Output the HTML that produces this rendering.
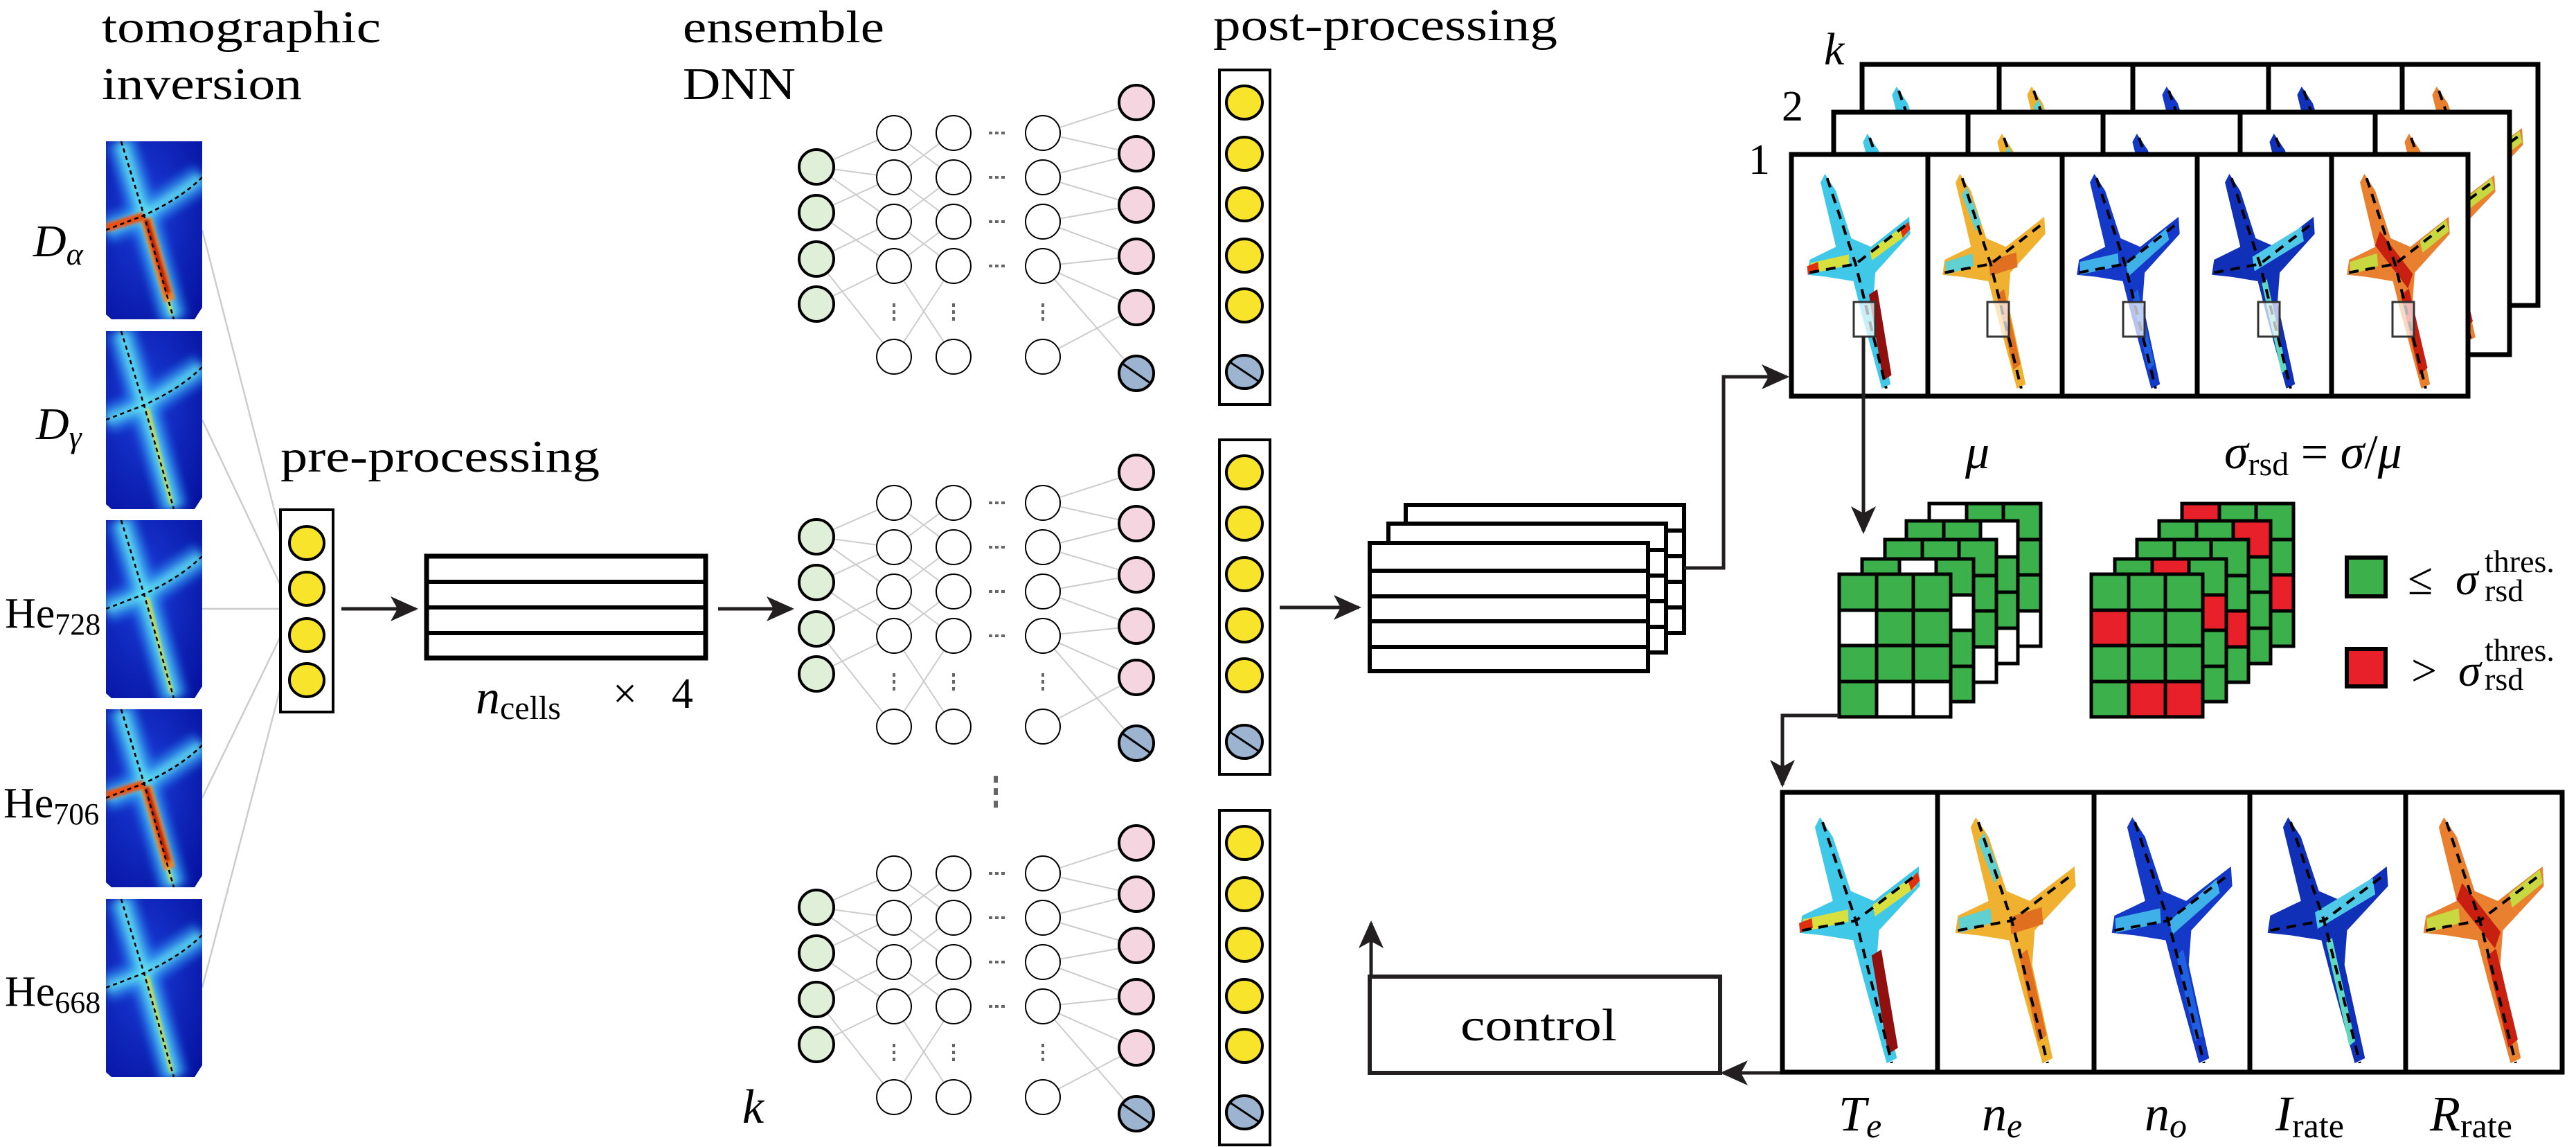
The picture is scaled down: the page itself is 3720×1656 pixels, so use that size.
<!DOCTYPE html>
<html><head><meta charset="utf-8">
<style>
html,body{margin:0;padding:0;background:#fff;}
svg{display:block;}
svg text{font-family:"Liberation Serif","DejaVu Serif",serif;fill:#000;}
.it{font-style:italic;}
</style></head>
<body>
<svg width="3720" height="1656" viewBox="0 0 3720 1656" xmlns="http://www.w3.org/2000/svg" font-family="Liberation Serif, DejaVu Serif, serif">
<defs>
<marker id="ah" viewBox="0 0 20 20" refX="18" refY="10" markerWidth="40" markerHeight="40" markerUnits="userSpaceOnUse" orient="auto">
<path d="M0,1 L20,10 L0,19 L5,10 Z" fill="#231f20"/>
</marker>
<filter id="bl" x="-0.3" y="-0.3" width="1.6" height="1.6"><feGaussianBlur stdDeviation="6"/></filter>
<filter id="bl2" x="-0.3" y="-0.3" width="1.6" height="1.6"><feGaussianBlur stdDeviation="2"/></filter>
<radialGradient id="hg" cx="0.4" cy="0.4" r="0.8"><stop offset="0" stop-color="#1a3cd8"/><stop offset="1" stop-color="#0612a0"/></radialGradient>
<symbol id="hm" viewBox="0 0 139 257" preserveAspectRatio="none">
<path d="M0,0 H139 V240 L128,257 H8 L0,250 Z" fill="url(#hg)"/>
<g filter="url(#bl)">
<path d="M22,0 L55,107 L98,257" stroke="#2a90f0" stroke-width="40" fill="none" opacity="0.8"/>
<path d="M0,128 L55,107 L139,52" stroke="#2a90f0" stroke-width="40" fill="none" opacity="0.7"/>
<path d="M22,0 L55,107 L98,257" stroke="#60e0f0" stroke-width="14" fill="none"/>
<path d="M0,128 L55,107 L139,52" stroke="#60e0f0" stroke-width="12" fill="none"/>
</g>
<path d="M60,112 L95,250" stroke="#f0e020" stroke-width="4" fill="none" filter="url(#bl2)"/>
<path d="M22,0 L55,107 L98,257 M0,128 L55,107 C80,95 110,80 139,52" stroke="#000" stroke-width="2.5" stroke-dasharray="6,5" fill="none"/>
</symbol>
<symbol id="hmr" viewBox="0 0 139 257" preserveAspectRatio="none">
<use href="#hm" width="139" height="257"/>
<g filter="url(#bl2)">
<path d="M58,112 L92,230" stroke="#f08020" stroke-width="16" fill="none"/>
<path d="M58,112 L90,220" stroke="#c01010" stroke-width="8" fill="none"/>
<path d="M0,125 L55,108" stroke="#f05010" stroke-width="12" fill="none"/>
</g>
<path d="M22,0 L55,107 L98,257 M0,128 L55,107 C80,95 110,80 139,52" stroke="#000" stroke-width="2.5" stroke-dasharray="6,5" fill="none"/>
</symbol>
<path id="shape" d="M18,0 L28,8 L42,30 L60,34 L95,20 L96,28 L64,46 L62,60 L78,98 L70,100 L52,66 L44,50 L20,48 L2,47 L4,40 L28,34 L14,4 Z"/>
<symbol id="pT" viewBox="0 0 100 100" preserveAspectRatio="none">
<use href="#shape" fill="#40c8e8"/>
<path d="M5,44 L40,40 M60,38 L92,26" stroke="#d8e040" stroke-width="5" fill="none"/>
<path d="M2,45 L12,43 M88,28 L95,24" stroke="#e03010" stroke-width="4"/>
<path d="M62,55 L75,95" stroke="#901010" stroke-width="8"/>
<path d="M20,2 L46,42 L74,100 M4,46 L46,42 L94,23" stroke="#000" fill="none" vector-effect="non-scaling-stroke" style="stroke-width:4;stroke-dasharray:14,10"/>
</symbol>
<symbol id="pN" viewBox="0 0 100 100" preserveAspectRatio="none">
<use href="#shape" fill="#f0b030"/>
<path d="M5,44 L30,40 M22,8 L35,25" stroke="#60d0d0" stroke-width="6" fill="none"/>
<path d="M45,44 L70,40 M55,55 L70,90" stroke="#e07020" stroke-width="7"/>
<path d="M20,2 L46,42 L74,100 M4,46 L46,42 L94,23" stroke="#000" fill="none" vector-effect="non-scaling-stroke" style="stroke-width:4;stroke-dasharray:14,10"/>
</symbol>
<symbol id="pB" viewBox="0 0 100 100" preserveAspectRatio="none">
<use href="#shape" fill="#1438c8"/>
<path d="M5,44 L40,40 M48,45 L85,28" stroke="#40b0e8" stroke-width="6" fill="none"/>
<path d="M55,55 L70,90" stroke="#2060e0" stroke-width="6"/>
<path d="M20,2 L46,42 L74,100 M4,46 L46,42 L94,23" stroke="#000" fill="none" vector-effect="non-scaling-stroke" style="stroke-width:4;stroke-dasharray:14,10"/>
</symbol>
<symbol id="pI" viewBox="0 0 100 100" preserveAspectRatio="none">
<use href="#shape" fill="#1030b8"/>
<path d="M40,42 L85,28" stroke="#50c8e8" stroke-width="7" fill="none"/>
<path d="M50,50 L68,92" stroke="#60d8c0" stroke-width="5"/>
<path d="M20,2 L46,42 L74,100 M4,46 L46,42 L94,23" stroke="#000" fill="none" vector-effect="non-scaling-stroke" style="stroke-width:4;stroke-dasharray:14,10"/>
</symbol>
<symbol id="pR" viewBox="0 0 100 100" preserveAspectRatio="none">
<use href="#shape" fill="#e88030"/>
<path d="M5,44 L30,40 M70,34 L94,24" stroke="#c8d840" stroke-width="6" fill="none"/>
<path d="M30,30 L60,50 M55,55 L72,92" stroke="#c82010" stroke-width="8"/>
<path d="M20,2 L46,42 L74,100 M4,46 L46,42 L94,23" stroke="#000" fill="none" vector-effect="non-scaling-stroke" style="stroke-width:4;stroke-dasharray:14,10"/>
</symbol>
<g id="net">
<g stroke="#cccccc" stroke-width="2" fill="none">
<path d="M1179,241 L1291,192 M1179,241 L1291,320 M1179,307 L1291,256 M1179,307 L1291,384 M1179,374 L1291,320 M1179,374 L1291,515 M1179,439 L1291,384 M1179,241 L1291,256"/>
<path d="M1291,192 L1377,256 M1291,256 L1377,192 M1291,256 L1377,320 M1291,320 L1377,384 M1291,384 L1377,320 M1291,515 L1377,384 M1291,384 L1377,515 M1291,320 L1377,256"/>
<path d="M1506,192 L1641,148 M1506,192 L1641,222 M1506,256 L1641,222 M1506,256 L1641,296 M1506,320 L1641,296 M1506,320 L1641,370 M1506,384 L1641,370 M1506,384 L1641,444 M1506,384 L1641,539 M1506,515 L1641,444"/>
</g>
<g stroke="#000" stroke-width="4">
<circle cx="1179" cy="241" r="25" fill="#e0f0d8"/><circle cx="1179" cy="307" r="25" fill="#e0f0d8"/><circle cx="1179" cy="374" r="25" fill="#e0f0d8"/><circle cx="1179" cy="439" r="25" fill="#e0f0d8"/>
</g>
<g stroke="#000" stroke-width="2" fill="#fff">
<circle cx="1291" cy="192" r="25"/><circle cx="1291" cy="256" r="25"/><circle cx="1291" cy="320" r="25"/><circle cx="1291" cy="384" r="25"/><circle cx="1291" cy="515" r="25"/>
<circle cx="1377" cy="192" r="25"/><circle cx="1377" cy="256" r="25"/><circle cx="1377" cy="320" r="25"/><circle cx="1377" cy="384" r="25"/><circle cx="1377" cy="515" r="25"/>
<circle cx="1506" cy="192" r="25"/><circle cx="1506" cy="256" r="25"/><circle cx="1506" cy="320" r="25"/><circle cx="1506" cy="384" r="25"/><circle cx="1506" cy="515" r="25"/>
</g>
<g fill="#666">
<rect x="1289" y="438" width="4" height="5"/><rect x="1289" y="448" width="4" height="5"/><rect x="1289" y="458" width="4" height="5"/>
<rect x="1375" y="438" width="4" height="5"/><rect x="1375" y="448" width="4" height="5"/><rect x="1375" y="458" width="4" height="5"/>
<rect x="1504" y="438" width="4" height="5"/><rect x="1504" y="448" width="4" height="5"/><rect x="1504" y="458" width="4" height="5"/>
<rect x="1428" y="190" width="5" height="4"/><rect x="1437" y="190" width="5" height="4"/><rect x="1446" y="190" width="5" height="4"/>
<rect x="1428" y="254" width="5" height="4"/><rect x="1437" y="254" width="5" height="4"/><rect x="1446" y="254" width="5" height="4"/>
<rect x="1428" y="318" width="5" height="4"/><rect x="1437" y="318" width="5" height="4"/><rect x="1446" y="318" width="5" height="4"/>
<rect x="1428" y="382" width="5" height="4"/><rect x="1437" y="382" width="5" height="4"/><rect x="1446" y="382" width="5" height="4"/>
</g>
<g stroke="#000" stroke-width="4">
<circle cx="1641" cy="148" r="25" fill="#f5d5e0"/><circle cx="1641" cy="222" r="25" fill="#f5d5e0"/><circle cx="1641" cy="296" r="25" fill="#f5d5e0"/><circle cx="1641" cy="370" r="25" fill="#f5d5e0"/><circle cx="1641" cy="444" r="25" fill="#f5d5e0"/>
<circle cx="1641" cy="539" r="25" fill="#9cb4d0"/><path d="M1621,525 L1661,553" stroke-width="3"/>
</g>
<rect x="1761" y="101" width="73" height="483" fill="#fff" stroke="#000" stroke-width="4"/>
<g stroke="#000" stroke-width="4">
<ellipse cx="1797" cy="148" rx="26" ry="24" fill="#f8e42a"/><ellipse cx="1797" cy="222" rx="26" ry="24" fill="#f8e42a"/><ellipse cx="1797" cy="295" rx="26" ry="24" fill="#f8e42a"/><ellipse cx="1797" cy="369" rx="26" ry="24" fill="#f8e42a"/><ellipse cx="1797" cy="441" rx="26" ry="24" fill="#f8e42a"/>
<ellipse cx="1797" cy="537" rx="26" ry="24" fill="#9cb4d0"/><path d="M1775,522 L1820,552" stroke-width="3"/>
</g>
</g>
</defs>

<text x="147" y="61" font-size="66" textLength="403" lengthAdjust="spacingAndGlyphs">tomographic</text>
<text x="147" y="143" font-size="66" textLength="289" lengthAdjust="spacingAndGlyphs">inversion</text>
<text x="986" y="61" font-size="66" textLength="291" lengthAdjust="spacingAndGlyphs">ensemble</text>
<text x="986" y="143" font-size="66" textLength="163" lengthAdjust="spacingAndGlyphs">DNN</text>
<text x="1752" y="58" font-size="66" textLength="497" lengthAdjust="spacingAndGlyphs">post-processing</text>
<text x="405" y="681" font-size="66" textLength="461" lengthAdjust="spacingAndGlyphs">pre-processing</text>

<g stroke="#cccccc" stroke-width="2.5">
<line x1="292" y1="332" x2="405" y2="771"/><line x1="292" y1="606" x2="405" y2="845"/><line x1="292" y1="879" x2="405" y2="879"/><line x1="292" y1="1152" x2="405" y2="919"/><line x1="292" y1="1426" x2="405" y2="993"/>
</g>
<use href="#hmr" x="153" y="204" width="139" height="257"/>
<use href="#hm" x="153" y="478" width="139" height="257"/>
<use href="#hm" x="153" y="751" width="139" height="257"/>
<use href="#hmr" x="153" y="1024" width="139" height="257"/>
<use href="#hm" x="153" y="1298" width="139" height="257"/>
<text x="48" y="370" font-size="66" class="it">D<tspan font-size="46" dy="12">α</tspan></text>
<text x="52" y="634" font-size="66" class="it">D<tspan font-size="46" dy="12">γ</tspan></text>
<text x="7" y="906" font-size="62">He<tspan font-size="44" dy="10">728</tspan></text>
<text x="5" y="1180" font-size="62">He<tspan font-size="44" dy="10">706</tspan></text>
<text x="7" y="1452" font-size="62">He<tspan font-size="44" dy="10">668</tspan></text>

<rect x="405" y="736" width="76" height="292" fill="#fff" stroke="#000" stroke-width="4"/>
<g stroke="#000" stroke-width="4" fill="#f8e42a">
<ellipse cx="443" cy="784" rx="25" ry="24"/><ellipse cx="443" cy="850" rx="25" ry="24"/><ellipse cx="443" cy="917" rx="25" ry="24"/><ellipse cx="443" cy="982" rx="25" ry="24"/>
</g>
<line x1="493" y1="879" x2="600" y2="879" stroke="#231f20" stroke-width="5" marker-end="url(#ah)"/>
<rect x="616" y="803" width="403" height="147" fill="#fff" stroke="#000" stroke-width="7"/>
<path d="M616,840 H1019 M616,877 H1019 M616,914 H1019" stroke="#000" stroke-width="6"/>
<text x="687" y="1030" font-size="70" class="it">n<tspan font-size="48" font-style="normal" dy="8">cells</tspan></text>
<text x="885" y="1022" font-size="62">×</text>
<text x="970" y="1022" font-size="62">4</text>
<line x1="1037" y1="879" x2="1143" y2="879" stroke="#231f20" stroke-width="5" marker-end="url(#ah)"/>

<use href="#net"/>
<use href="#net" y="534"/>
<use href="#net" y="1069"/>
<g fill="#666"><rect x="1435" y="1120" width="6" height="10"/><rect x="1435" y="1138" width="6" height="10"/><rect x="1435" y="1156" width="6" height="10"/></g>
<text x="1072" y="1621" font-size="70" class="it">k</text>

<line x1="1848" y1="877" x2="1962" y2="877" stroke="#231f20" stroke-width="5" marker-end="url(#ah)"/>
<g stroke="#000" stroke-width="6" fill="#fff">
<rect x="2030" y="729" width="402" height="185"/>
<path d="M2030,766 H2432 M2030,803 H2432 M2030,840 H2432 M2030,877 H2432"/>
<rect x="2005" y="756" width="401" height="186"/>
<path d="M2005,794 H2406 M2005,831 H2406 M2005,868 H2406 M2005,905 H2406"/>
<rect x="1978" y="784" width="402" height="185"/>
<path d="M1978,824 H2380 M1978,861 H2380 M1978,897 H2380 M1978,934 H2380"/>
</g>
<polyline points="2432,820 2489,820 2489,544 2580,544" fill="none" stroke="#231f20" stroke-width="5" marker-end="url(#ah)"/>

<rect x="1978" y="1410" width="506" height="139" fill="#fff" stroke="#231f20" stroke-width="6"/>
<text x="2222" y="1502" font-size="66" text-anchor="middle" textLength="226" lengthAdjust="spacingAndGlyphs">control</text>
<line x1="1980" y1="1410" x2="1980" y2="1333" stroke="#231f20" stroke-width="5" marker-end="url(#ah)"/>
<line x1="2574" y1="1549" x2="2488" y2="1549" stroke="#231f20" stroke-width="5" marker-end="url(#ah)"/>

<g stroke="#000" stroke-width="7" fill="#fff">
<rect x="2689" y="93" width="976" height="348"/>
<path d="M2887,93 V441 M3080,93 V441 M3276,93 V441 M3469,93 V441"/>
</g>
<use href="#pT" x="2710" y="125" width="160" height="300"/>
<use href="#pN" x="2905" y="125" width="160" height="300"/>
<use href="#pB" x="3100" y="125" width="160" height="300"/>
<use href="#pI" x="3295" y="125" width="160" height="300"/>
<use href="#pR" x="3490" y="125" width="160" height="300"/>
<g stroke="#000" stroke-width="7" fill="#fff">
<rect x="2648" y="162" width="976" height="350"/>
<path d="M2842,162 V512 M3037,162 V512 M3235,162 V512 M3430,162 V512"/>
</g>
<use href="#pT" x="2668" y="193" width="160" height="300"/>
<use href="#pN" x="2862" y="193" width="160" height="300"/>
<use href="#pB" x="3057" y="193" width="160" height="300"/>
<use href="#pI" x="3255" y="193" width="160" height="300"/>
<use href="#pR" x="3450" y="193" width="160" height="300"/>
<g stroke="#000" stroke-width="7" fill="#fff">
<rect x="2587" y="223" width="977" height="349"/>
</g>
<use href="#pT" x="2607" y="251" width="158" height="310"/>
<use href="#pN" x="2802" y="251" width="158" height="310"/>
<use href="#pB" x="2996" y="251" width="158" height="310"/>
<use href="#pI" x="3191" y="251" width="158" height="310"/>
<use href="#pR" x="3386" y="251" width="158" height="310"/>
<path d="M2784,223 V572 M2978,223 V572 M3173,223 V572 M3367,223 V572" stroke="#000" stroke-width="7"/>
<g fill="#ffffff" fill-opacity="0.7" stroke="#333" stroke-width="3">
<rect x="2677" y="436" width="31" height="50"/><rect x="2870" y="436" width="31" height="50"/><rect x="3066" y="436" width="31" height="50"/><rect x="3261" y="436" width="31" height="50"/><rect x="3455" y="436" width="31" height="50"/>
</g>
<text x="2525" y="251" font-size="62">1</text>
<text x="2573" y="174" font-size="62">2</text>
<text x="2634" y="93" font-size="66" class="it">k</text>
<text x="2838" y="676" font-size="70" class="it">μ</text>
<text x="3212" y="676" font-size="70"><tspan class="it">σ</tspan><tspan font-size="48" dy="10">rsd</tspan><tspan dy="-10"> = </tspan><tspan class="it">σ</tspan>/<tspan class="it">μ</tspan></text>

<line x1="2691" y1="486" x2="2691" y2="767" stroke="#231f20" stroke-width="5" marker-end="url(#ah)"/>

<g stroke="#000" stroke-width="5">
<g transform="translate(2786,727)"><rect width="161" height="206" fill="#3cb04a"/><rect x="0" y="0" width="54" height="52" fill="#fff"/><rect x="107" y="155" width="54" height="51" fill="#fff"/><path d="M54,0 V206 M107,0 V206 M0,52 H161 M0,103 H161 M0,155 H161" fill="none"/></g>
<g transform="translate(2753,752)"><rect width="161" height="206" fill="#3cb04a"/><rect x="107" y="0" width="54" height="52" fill="#fff"/><rect x="107" y="155" width="54" height="51" fill="#fff"/><path d="M54,0 V206 M107,0 V206 M0,52 H161 M0,103 H161 M0,155 H161" fill="none"/></g>
<g transform="translate(2722,779)"><rect width="161" height="206" fill="#3cb04a"/><rect x="107" y="155" width="54" height="51" fill="#fff"/><path d="M54,0 V206 M107,0 V206 M0,52 H161 M0,103 H161 M0,155 H161" fill="none"/></g>
<g transform="translate(2689,807)"><rect width="161" height="206" fill="#3cb04a"/><rect x="54" y="0" width="53" height="52" fill="#fff"/><rect x="107" y="52" width="54" height="51" fill="#fff"/><path d="M54,0 V206 M107,0 V206 M0,52 H161 M0,103 H161 M0,155 H161" fill="none"/></g>
<g transform="translate(2656,829)"><rect width="161" height="206" fill="#3cb04a"/><rect x="0" y="52" width="54" height="51" fill="#fff"/><rect x="54" y="155" width="53" height="51" fill="#fff"/><rect x="107" y="155" width="54" height="51" fill="#fff"/><path d="M54,0 V206 M107,0 V206 M0,52 H161 M0,103 H161 M0,155 H161" fill="none"/></g>
</g>
<g stroke="#000" stroke-width="5">
<g transform="translate(3151,727)"><rect width="161" height="206" fill="#3cb04a"/><rect x="0" y="0" width="54" height="52" fill="#e8202a"/><rect x="107" y="103" width="54" height="52" fill="#e8202a"/><path d="M54,0 V206 M107,0 V206 M0,52 H161 M0,103 H161 M0,155 H161" fill="none"/></g>
<g transform="translate(3118,752)"><rect width="161" height="206" fill="#3cb04a"/><rect x="107" y="0" width="54" height="52" fill="#e8202a"/><path d="M54,0 V206 M107,0 V206 M0,52 H161 M0,103 H161 M0,155 H161" fill="none"/></g>
<g transform="translate(3086,779)"><rect width="161" height="206" fill="#3cb04a"/><rect x="107" y="103" width="54" height="52" fill="#e8202a"/><path d="M54,0 V206 M107,0 V206 M0,52 H161 M0,103 H161 M0,155 H161" fill="none"/></g>
<g transform="translate(3054,807)"><rect width="161" height="206" fill="#3cb04a"/><rect x="54" y="0" width="53" height="52" fill="#e8202a"/><rect x="107" y="52" width="54" height="51" fill="#e8202a"/><path d="M54,0 V206 M107,0 V206 M0,52 H161 M0,103 H161 M0,155 H161" fill="none"/></g>
<g transform="translate(3020,829)"><rect width="161" height="206" fill="#3cb04a"/><rect x="0" y="52" width="54" height="51" fill="#e8202a"/><rect x="54" y="155" width="53" height="51" fill="#e8202a"/><rect x="107" y="155" width="54" height="51" fill="#e8202a"/><path d="M54,0 V206 M107,0 V206 M0,52 H161 M0,103 H161 M0,155 H161" fill="none"/></g>
</g>
<rect x="3389" y="805" width="56" height="56" fill="#3cb04a" stroke="#000" stroke-width="6"/>
<rect x="3389" y="937" width="56" height="54" fill="#e8202a" stroke="#000" stroke-width="6"/>
<text x="3477" y="858" font-size="66">≤</text>
<text x="3546" y="858" font-size="66" class="it">σ</text>
<text x="3588" y="826" font-size="46">thres.</text>
<text x="3588" y="868" font-size="46">rsd</text>
<text x="3482" y="990" font-size="66">&gt;</text>
<text x="3550" y="990" font-size="66" class="it">σ</text>
<text x="3588" y="954" font-size="46">thres.</text>
<text x="3588" y="996" font-size="46">rsd</text>

<polyline points="2656,1033 2574,1033 2574,1133" fill="none" stroke="#231f20" stroke-width="5" marker-end="url(#ah)"/>

<rect x="2574" y="1144" width="1126" height="404" fill="#fff" stroke="#000" stroke-width="7"/>
<use href="#pT" x="2595" y="1180" width="185" height="355"/>
<use href="#pN" x="2820" y="1180" width="185" height="355"/>
<use href="#pB" x="3046" y="1180" width="185" height="355"/>
<use href="#pI" x="3271" y="1180" width="185" height="355"/>
<use href="#pR" x="3496" y="1180" width="185" height="355"/>
<path d="M2798,1144 V1548 M3024,1144 V1548 M3249,1144 V1548 M3474,1144 V1548" stroke="#000" stroke-width="7"/>
<text x="2655" y="1632" font-size="72" class="it">T<tspan font-size="50" dy="10">e</tspan></text>
<text x="2862" y="1632" font-size="72" class="it">n<tspan font-size="50" dy="10">e</tspan></text>
<text x="3097" y="1632" font-size="72" class="it">n<tspan font-size="50" dy="10">o</tspan></text>
<text x="3286" y="1632" font-size="72" class="it">I<tspan font-size="50" font-style="normal" dy="10">rate</tspan></text>
<text x="3509" y="1632" font-size="72" class="it">R<tspan font-size="50" font-style="normal" dy="10">rate</tspan></text>
</svg>
</body></html>
